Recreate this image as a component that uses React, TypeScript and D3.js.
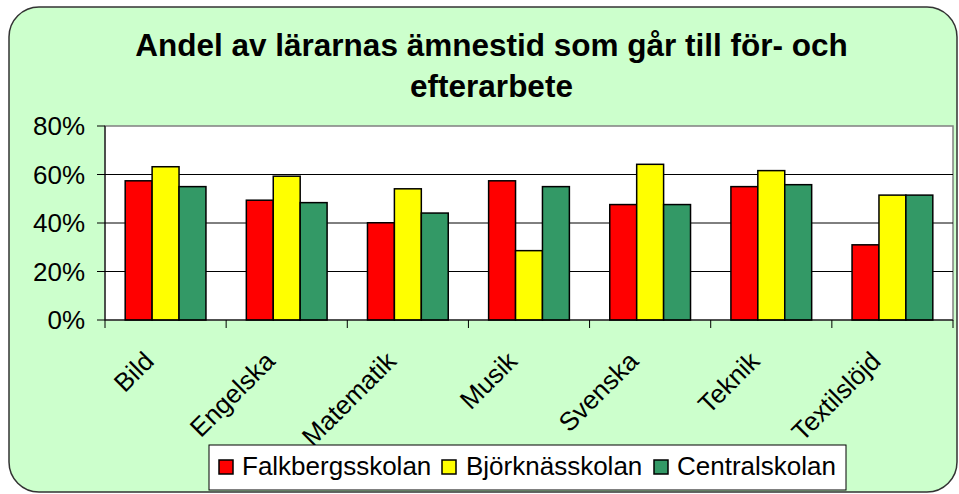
import * as d3 from "d3";

// Ämnen (kategorier på x-axeln)
const categories = ["Bild", "Engelska", "Matematik", "Musik", "Svenska", "Teknik", "Textilslöjd"];

// Skolor (serier)
const seriesNames = ["Falkbergsskolan", "Björknässkolan", "Centralskolan"];
const seriesColors = ["#FF0000", "#FFFF00", "#339966"];

// Andel (%) per ämne, en lista per skola
const falkbergsskolan = [57.4, 49.4, 40.1, 57.4, 47.6, 55.0, 31.0];
const bjorknasskolan = [63.2, 59.3, 54.1, 28.6, 64.2, 61.6, 51.5];
const centralskolan = [55.0, 48.4, 44.1, 55.0, 47.6, 55.8, 51.5];

const yTicks = [0, 20, 40, 60, 80];

const width = 959;
const height = 494;

// plot area
const plot = { left: 105, right: 953, top: 126, bottom: 320 };

const font = "Arial, 'Liberation Sans', sans-serif";

export default function App() {
  const values = [falkbergsskolan, bjorknasskolan, centralskolan];

  const x = d3.scaleBand().domain(categories).range([plot.left, plot.right]).padding(0);
  const bw = x.bandwidth();
  // gap width 150 % som i Excel
  const barW = bw / (seriesNames.length + 1.5);
  const xs = d3
    .scaleBand()
    .domain(seriesNames)
    .range([(bw - barW * 3) / 2, (bw + barW * 3) / 2]);

  const y = d3.scaleLinear().domain([0, 80]).range([plot.bottom, plot.top]);

  // legend layout
  const legend = { x: 209, y: 445, w: 637, h: 45 };
  const legendItems = [
    { sq: 219, tx: 242 },
    { sq: 442, tx: 466 },
    { sq: 654, tx: 677 },
  ];

  const boundaries = [...categories.map((c) => x(c)!), plot.right];

  return (
    <svg
      width={width}
      height={height}
      style={{ position: "absolute", left: 0, top: 0 }}
      fontFamily={font}
    >
      {/* chart area */}
      <rect x={9} y={7} width={948} height={485} rx={30} ry={30} fill="#CCFFCC" stroke="#333" strokeWidth={1.5} />

      {/* title */}
      <text x={491.5} y={56} textAnchor="middle" fontSize={31.5} fontWeight="bold" fill="#000">
        Andel av lärarnas ämnestid som går till för- och
      </text>
      <text x={491.5} y={97} textAnchor="middle" fontSize={31.5} fontWeight="bold" fill="#000">
        efterarbete
      </text>

      {/* plot area */}
      <rect
        x={plot.left}
        y={plot.top}
        width={plot.right - plot.left}
        height={plot.bottom - plot.top}
        fill="#fff"
        stroke="#808080"
        strokeWidth={1.5}
      />

      {/* gridlines */}
      {yTicks.slice(1, -1).map((t) => (
        <line key={t} x1={plot.left} x2={plot.right} y1={y(t)} y2={y(t)} stroke="#000" strokeWidth={1} />
      ))}

      {/* bars */}
      {categories.map((c, i) => (
        <g key={c} transform={`translate(${x(c)},0)`}>
          {seriesNames.map((s, j) => (
            <rect
              key={s}
              x={xs(s)}
              y={y(values[j][i])}
              width={xs.bandwidth()}
              height={y(0) - y(values[j][i])}
              fill={seriesColors[j]}
              stroke="#000"
              strokeWidth={1.5}
            />
          ))}
        </g>
      ))}

      {/* y axis */}
      <line x1={plot.left} x2={plot.left} y1={plot.top} y2={plot.bottom} stroke="#000" strokeWidth={1} />
      {yTicks.map((t) => (
        <g key={t}>
          <line x1={plot.left - 8} x2={plot.left} y1={y(t)} y2={y(t)} stroke="#000" />
          <text x={85} y={y(t)} dy="0.36em" textAnchor="end" fontSize={26} fill="#000">
            {t}%
          </text>
        </g>
      ))}

      {/* x axis */}
      <line x1={plot.left} x2={plot.right} y1={plot.bottom} y2={plot.bottom} stroke="#000" strokeWidth={1} />
      {boundaries.map((b, i) => (
        <line key={i} x1={b} x2={b} y1={plot.bottom} y2={plot.bottom + 8} stroke="#000" />
      ))}
      {categories.map((c) => (
        <text
          key={c}
          transform={`translate(${x(c)! + bw / 2 - 24},${plot.bottom + 29}) rotate(-45)`}
          dy="0.75em"
          textAnchor="end"
          fontSize={26}
          fill="#000"
        >
          {c}
        </text>
      ))}

      {/* legend */}
      <rect x={legend.x} y={legend.y} width={legend.w} height={legend.h} fill="#fff" stroke="#000" strokeWidth={1} />
      {seriesNames.map((s, j) => (
        <g key={s}>
          <rect
            x={legendItems[j].sq}
            y={460}
            width={14}
            height={14}
            fill={seriesColors[j]}
            stroke="#000"
            strokeWidth={1.5}
          />
          <text x={legendItems[j].tx} y={475} fontSize={26} fill="#000">
            {s}
          </text>
        </g>
      ))}
    </svg>
  );
}
